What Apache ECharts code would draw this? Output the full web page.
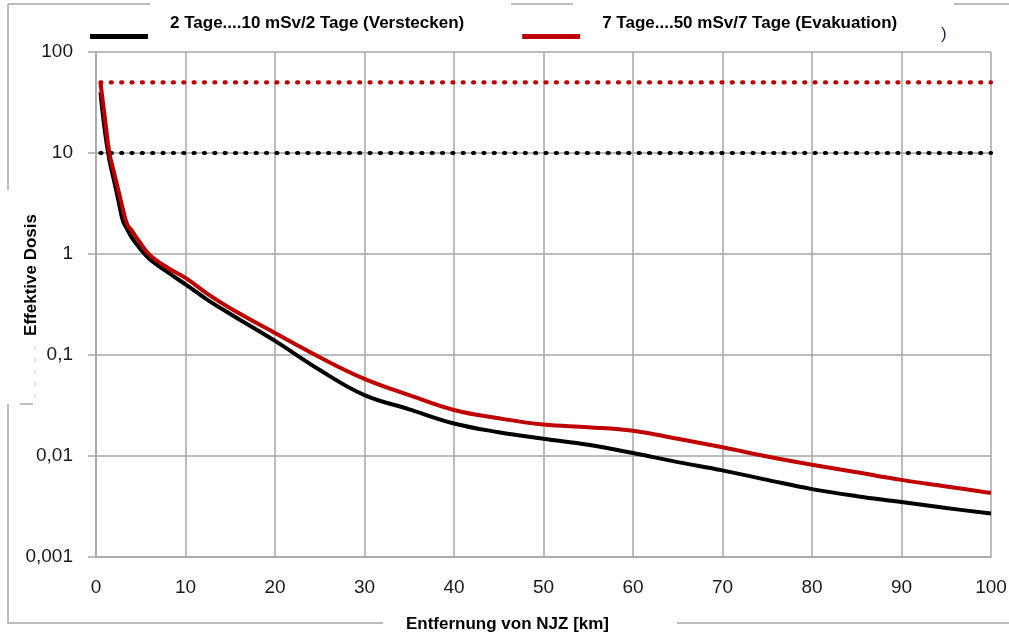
<!DOCTYPE html>
<html>
<head>
<meta charset="utf-8">
<title>Effektive Dosis</title>
<script src="https://cdn.jsdelivr.net/npm/echarts@6/dist/echarts.min.js"></script>
<style>
  html, body { margin: 0; padding: 0; background: #fff; }
  #chart { width: 1009px; height: 636px; }
</style>
</head>
<body>
<div id="chart"></div>
<script>
// Distance from the plant (km)
const distanceKm = [0.5, 1, 1.5, 2, 2.5, 3, 3.5, 4, 5, 6, 8, 10, 12.5, 15, 20, 25, 30, 35, 40, 45, 50, 55, 60, 65, 70, 75, 80, 85, 90, 95, 100];
// Effective dose, 2-day exposure (sheltering)
const doseShelter = [40, 16.2, 8.5, 5.4, 3.4, 2.14, 1.75, 1.45, 1.11, 0.89, 0.66, 0.5, 0.35, 0.255, 0.138, 0.071, 0.040, 0.029, 0.021, 0.0172, 0.0148, 0.0129, 0.0107, 0.0087, 0.0072, 0.0058, 0.0047, 0.0040, 0.0035, 0.00305, 0.0027];
// Effective dose, 7-day exposure (evacuation)
const doseEvacuation = [50, 22, 10, 6.5, 4.27, 2.8, 1.95, 1.7, 1.27, 0.98, 0.73, 0.58, 0.40, 0.29, 0.165, 0.095, 0.058, 0.040, 0.0285, 0.0236, 0.0205, 0.0193, 0.0178, 0.0148, 0.0122, 0.0099, 0.0082, 0.0069, 0.0058, 0.0050, 0.0043];
// Intervention levels (mSv)
const levelShelter = 10;
const levelEvacuation = 50;
const seriesNames = ['2 Tage....10 mSv/2 Tage (Verstecken)', '7 Tage....50 mSv/7 Tage (Evakuation)'];
const yTickLabels = ['0,001', '0,01', '0,1', '1', '10', '100'];
const yAxisTitle = 'Effektive Dosis';

const pairs = (xs, ys) => xs.map((x, i) => [x, ys[i]]);
const levelLine = (v) => [[distanceKm[0], v], [distanceKm[distanceKm.length - 1], v]];

const GRID = '#a6a6a6';
const FONT = "'Liberation Sans', Arial, sans-serif";

const chart = echarts.init(document.getElementById('chart'), null, { renderer: 'canvas' });

chart.setOption({
  backgroundColor: '#fff',
  animation: false,
  grid: { left: 96, right: 18, top: 52, bottom: 79, containLabel: false, outerBoundsMode: 'none' },
  legend: {
    data: seriesNames,
    left: 90,
    top: 15,
    padding: 0,
    itemGap: 58,
    icon: 'rect',
    itemWidth: 58,
    itemHeight: 5,
    // label sits above the swatch: the second (empty) line pushes it up
    formatter: (name) => '{t|' + name + '}\n{s| }',
    textStyle: {
      fontFamily: FONT,
      fontWeight: 'bold',
      fontSize: 17,
      color: '#000',
      padding: [0, 0, 0, 17],
      rich: {
        t: { fontFamily: FONT, fontWeight: 'bold', fontSize: 17, color: '#000', lineHeight: 20 },
        s: { fontSize: 10, lineHeight: 26 }
      }
    }
  },
  xAxis: {
    type: 'value',
    min: 0,
    max: 100,
    interval: 10,
    name: 'Entfernung von NJZ [km]',
    nameLocation: 'middle',
    nameGap: 59,
    nameTextStyle: { fontFamily: FONT, fontWeight: 'bold', fontSize: 17, color: '#000', padding: [0, 72, 0, 0] },
    axisLine: { show: true, lineStyle: { color: GRID, width: 1.5 } },
    axisTick: { show: false },
    axisLabel: { margin: 21, fontFamily: FONT, fontSize: 19, color: '#1a1a1a' },
    splitLine: { show: true, lineStyle: { color: GRID, width: 1.5 } }
  },
  yAxis: {
    type: 'log',
    logBase: 10,
    min: 0.001,
    max: 100,
    axisLine: { show: true, lineStyle: { color: GRID, width: 1.5 } },
    axisTick: { show: true, inside: false, length: 8, lineStyle: { color: GRID, width: 1.5 } },
    axisLabel: {
      margin: 23,
      fontFamily: FONT,
      fontSize: 19,
      color: '#1a1a1a',
      formatter: (v) => yTickLabels[Math.round(Math.log10(v)) + 3]
    },
    splitLine: { show: true, lineStyle: { color: GRID, width: 1.5 } }
  },
  series: [
    {
      name: seriesNames[0],
      type: 'line',
      data: pairs(distanceKm, doseShelter),
      showSymbol: false,
      smooth: 0.4,
      color: '#000000',
      lineStyle: { color: '#000000', width: 4 },
      z: 3
    },
    {
      name: seriesNames[1],
      type: 'line',
      data: pairs(distanceKm, doseEvacuation),
      showSymbol: false,
      smooth: 0.4,
      color: '#c00000',
      lineStyle: { color: '#c00000', width: 4 },
      z: 4
    },
    {
      name: 'level-shelter',
      type: 'line',
      data: levelLine(levelShelter),
      showSymbol: false,
      silent: true,
      lineStyle: { color: '#000000', width: 4.2, type: [1, 9.35], cap: 'round' },
      z: 2
    },
    {
      name: 'level-evacuation',
      type: 'line',
      data: levelLine(levelEvacuation),
      showSymbol: false,
      silent: true,
      lineStyle: { color: '#c00000', width: 4.2, type: [1, 9.35], cap: 'round' },
      z: 2
    }
  ],
  graphic: [
    // outer chart frame, interrupted behind legend and axis titles
    { type: 'polyline', shape: { points: [[8, 4], [150, 4]] }, style: { stroke: GRID, lineWidth: 1.5, fill: null } },
    { type: 'polyline', shape: { points: [[511, 4], [573, 4]] }, style: { stroke: GRID, lineWidth: 1.5, fill: null } },
    { type: 'polyline', shape: { points: [[954, 4], [1009, 4]] }, style: { stroke: GRID, lineWidth: 1.5, fill: null } },
    { type: 'polyline', shape: { points: [[8, 4], [8, 190]] }, style: { stroke: GRID, lineWidth: 1.5, fill: null } },
    { type: 'polyline', shape: { points: [[8, 404], [8, 623], [383, 623]] }, style: { stroke: GRID, lineWidth: 1.5, fill: null } },
    { type: 'polyline', shape: { points: [[677, 623], [1009, 623]] }, style: { stroke: GRID, lineWidth: 1.5, fill: null } },
    { type: 'polyline', shape: { points: [[20, 404], [33, 404]] }, style: { stroke: GRID, lineWidth: 1.5, fill: null } },
    { type: 'polyline', shape: { points: [[35, 346], [35, 398]] }, style: { stroke: '#c8c8c8', lineWidth: 1, lineDash: [4, 8], fill: null } },
    // y-axis title, rotated
    {
      type: 'text', x: 31, y: 275, rotation: Math.PI / 2,
      style: { text: yAxisTitle, fontFamily: FONT, fontWeight: 'bold', fontSize: 17, fill: '#000', align: 'center', verticalAlign: 'middle' }
    },
    { type: 'text', left: 941, top: 26, style: { text: ')', fontFamily: FONT, fontSize: 17, fill: '#1f2a44' } }
  ]
});
</script>
</body>
</html>
